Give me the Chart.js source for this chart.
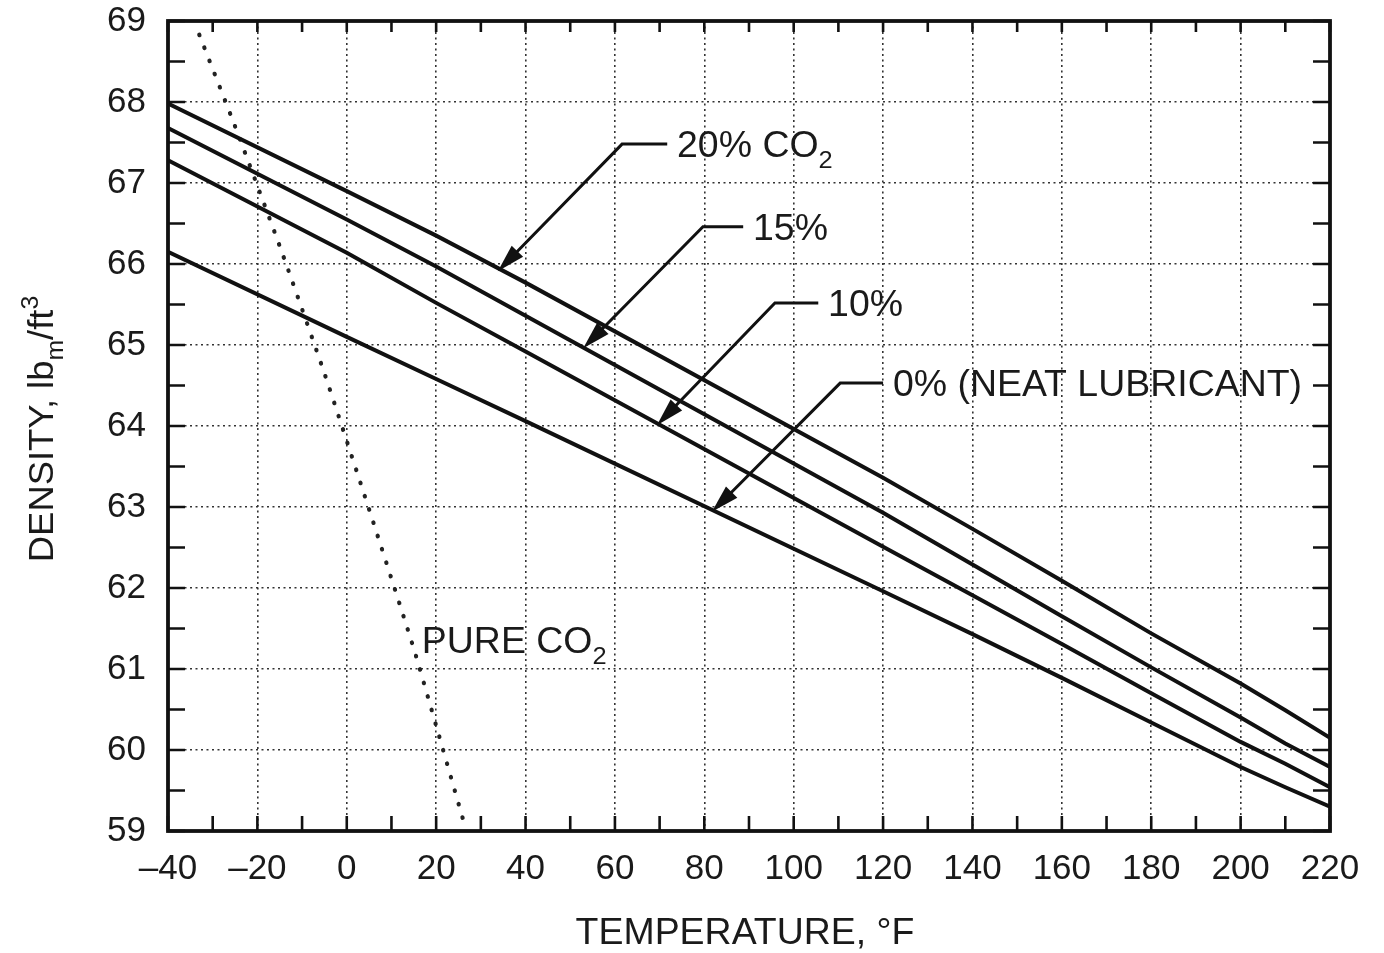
<!DOCTYPE html>
<html>
<head>
<meta charset="utf-8">
<script src="https://cdn.jsdelivr.net/npm/chart.js@4.4.1/dist/chart.umd.min.js"></script>
<style>
  html, body { margin: 0; padding: 0; background: #fff; }
  #wrap { width: 1384px; height: 953px; }
</style>
</head>
<body>
<div id="wrap"><canvas id="c" width="1384" height="953"></canvas></div>
<script>
// temperatures (°F) where the curves were read
const temps = [-40, 0, 20, 40, 120, 140, 160, 180, 200, 210, 220];
// density, lbm/ft3, per CO2 concentration
const co2_20 = [67.98, 66.90, 66.35, 65.77, 63.36, 62.73, 62.09, 61.44, 60.82, 60.49, 60.15];
const co2_15 = [67.68, 66.55, 65.97, 65.36, 62.93, 62.29, 61.65, 61.02, 60.40, 60.08, 59.79];
const co2_10 = [67.28, 66.14, 65.52, 64.92, 62.51, 61.91, 61.31, 60.70, 60.10, 59.83, 59.54];
const co2_0  = [66.15, 65.10, 64.58, 64.06, 61.96, 61.43, 60.89, 60.34, 59.79, 59.54, 59.30];

// pure CO2 (dotted)
const pureTemps = [-33, -25, -15, -5, 5, 15, 20, 26.5];
const pureDens  = [68.83, 67.70, 66.22, 64.65, 62.97, 61.25, 60.30, 59.05];

// axis ticks
const xMin = -40, xMax = 220, xStep = 20, xMinor = 10;
const yMin = 59, yMax = 69, yStep = 1, yMinor = 0.5;

// callout labels (anchors in data units)
const calloutText = ['20% CO', '15%', '10%', '0% (NEAT LUBRICANT)'];
const calloutSub  = ['2', '', '', ''];
const elbowT = [61.6, 79.7, 95.8, 110.4];
const elbowD = [67.48, 66.46, 65.52, 64.53];
const textT  = [73.9, 90.9, 107.7, 122.2];
const tipT   = [33.8, 52.9, 69.4, 81.7];
const tipD   = [65.91, 64.96, 64.01, 62.94];

const FONT = "'Liberation Sans', Arial, Helvetica, sans-serif";
const INK = '#1a1a1a';

function pts(xs, ys) { return xs.map((x, i) => ({ x: x, y: ys[i] })); }

// text with sub/superscripts, optionally rotated, horizontally stretched
function richText(ctx, parts, x, y, size, opts) {
  opts = opts || {};
  const stretch = opts.stretch || 1;
  const small = size * 0.68;
  ctx.save();
  ctx.translate(x, y);
  if (opts.angle) ctx.rotate(opts.angle);
  ctx.scale(stretch, 1);
  let total = 0;
  for (const p of parts) {
    ctx.font = ((p.sub || p.sup) ? small : size) + 'px ' + FONT;
    total += ctx.measureText(p.t).width;
  }
  let cx = opts.align === 'center' ? -total / 2 : 0;
  const base = size * 0.358; // baseline so caps are centred on y
  ctx.fillStyle = INK;
  ctx.textBaseline = 'alphabetic';
  ctx.textAlign = 'left';
  for (const p of parts) {
    ctx.font = ((p.sub || p.sup) ? small : size) + 'px ' + FONT;
    const dy = p.sub ? size * 0.3 : p.sup ? -size * 0.42 : 0;
    ctx.fillText(p.t, cx, base + dy);
    cx += ctx.measureText(p.t).width;
  }
  ctx.restore();
}

const framePlugin = {
  id: 'frame',
  afterDatasetsDraw(chart) {
    const { ctx, chartArea: a, scales: { x, y } } = chart;
    ctx.save();
    ctx.strokeStyle = '#111';
    ctx.lineWidth = 2.6;
    ctx.beginPath();
    for (let t = xMin; t <= xMax; t += xMinor) {
      const px = x.getPixelForValue(t);
      ctx.moveTo(px, a.bottom); ctx.lineTo(px, a.bottom - 15);
      ctx.moveTo(px, a.top); ctx.lineTo(px, a.top + 11);
    }
    for (let v = yMin; v <= yMax; v += yMinor) {
      const py = y.getPixelForValue(v);
      ctx.moveTo(a.left, py); ctx.lineTo(a.left + 17, py);
      ctx.moveTo(a.right, py); ctx.lineTo(a.right - 17, py);
    }
    ctx.stroke();
    ctx.lineWidth = 3.8;
    ctx.strokeRect(a.left, a.top, a.right - a.left, a.bottom - a.top);
    ctx.restore();
  },
  afterDraw(chart) {
    const { ctx, chartArea: a, scales: { x, y } } = chart;
    ctx.save();
    ctx.strokeStyle = '#111';
    ctx.fillStyle = '#111';
    ctx.lineWidth = 3;
    for (let i = 0; i < calloutText.length; i++) {
      const ex = x.getPixelForValue(elbowT[i]), ey = y.getPixelForValue(elbowD[i]);
      const hx = x.getPixelForValue(textT[i] - 2.2);
      const tx = x.getPixelForValue(tipT[i]), ty = y.getPixelForValue(tipD[i]);
      ctx.beginPath();
      ctx.moveTo(hx, ey); ctx.lineTo(ex, ey);
      const ang = Math.atan2(ty - ey, tx - ex);
      const L = 28, W = 8;
      const bx = tx - L * Math.cos(ang), by = ty - L * Math.sin(ang);
      ctx.lineTo(bx + 2 * Math.cos(ang), by + 2 * Math.sin(ang));
      ctx.stroke();
      ctx.beginPath();
      ctx.moveTo(tx, ty);
      ctx.lineTo(bx + W * Math.sin(ang), by - W * Math.cos(ang));
      ctx.lineTo(bx - W * Math.sin(ang), by + W * Math.cos(ang));
      ctx.closePath();
      ctx.fill();
      const parts = [{ t: calloutText[i] }];
      if (calloutSub[i]) parts.push({ t: calloutSub[i], sub: true });
      richText(ctx, parts, x.getPixelForValue(textT[i]), ey, 36, { stretch: 1.04 });
    }
    // pure CO2 label
    richText(ctx, [{ t: 'PURE CO' }, { t: '2', sub: true }],
      x.getPixelForValue(16.8), y.getPixelForValue(61.36), 36, { stretch: 1.04 });
    // axis titles
    richText(ctx, [{ t: 'TEMPERATURE, °F' }], (a.left + a.right) / 2 - 4, 931, 36,
      { stretch: 1.04, align: 'center' });
    richText(ctx, [{ t: 'DENSITY, lb' }, { t: 'm', sub: true }, { t: '/ft' }, { t: '3', sup: true }],
      40, 429, 35, { stretch: 1.04, align: 'center', angle: -Math.PI / 2 });
    ctx.restore();
  }
};

const solid = { borderColor: '#111', borderWidth: 4, pointRadius: 0, tension: 0, fill: false };

new Chart(document.getElementById('c'), {
  type: 'line',
  data: {
    datasets: [
      Object.assign({ label: '20% CO2', data: pts(temps, co2_20) }, solid),
      Object.assign({ label: '15%', data: pts(temps, co2_15) }, solid),
      Object.assign({ label: '10%', data: pts(temps, co2_10) }, solid),
      Object.assign({ label: '0% (neat lubricant)', data: pts(temps, co2_0) }, solid),
      {
        label: 'Pure CO2', data: pts(pureTemps, pureDens),
        borderColor: '#222', borderWidth: 4.2, borderDash: [0.5, 13.5], borderCapStyle: 'round',
        pointRadius: 0, tension: 0.2, fill: false
      }
    ]
  },
  options: {
    responsive: false,
    animation: false,
    layout: { padding: { top: 21, right: 54, left: 0, bottom: 0 } },
    plugins: { legend: { display: false }, tooltip: { enabled: false } },
    scales: {
      x: {
        type: 'linear', min: xMin, max: xMax,
        ticks: {
          stepSize: xStep, color: INK, padding: 17,
          font: { family: FONT, size: 35 },
          callback: v => (v < 0 ? '\u2013' + Math.abs(v) : String(v))
        },
        grid: { color: '#333', lineWidth: 1.6, drawTicks: false },
        border: { display: false, dash: [2, 3.5] },
        afterFit: s => { s.height = 122; s.paddingLeft = 0; s.paddingRight = 0; }
      },
      y: {
        type: 'linear', min: yMin, max: yMax,
        ticks: {
          stepSize: yStep, color: INK, padding: 22,
          font: { family: FONT, size: 35 }
        },
        grid: { color: '#333', lineWidth: 1.6, drawTicks: false },
        border: { display: false, dash: [2, 3.5] },
        afterFit: s => { s.width = 168; s.paddingTop = 0; s.paddingBottom = 0; }
      }
    }
  },
  plugins: [framePlugin]
});
</script>
</body>
</html>
